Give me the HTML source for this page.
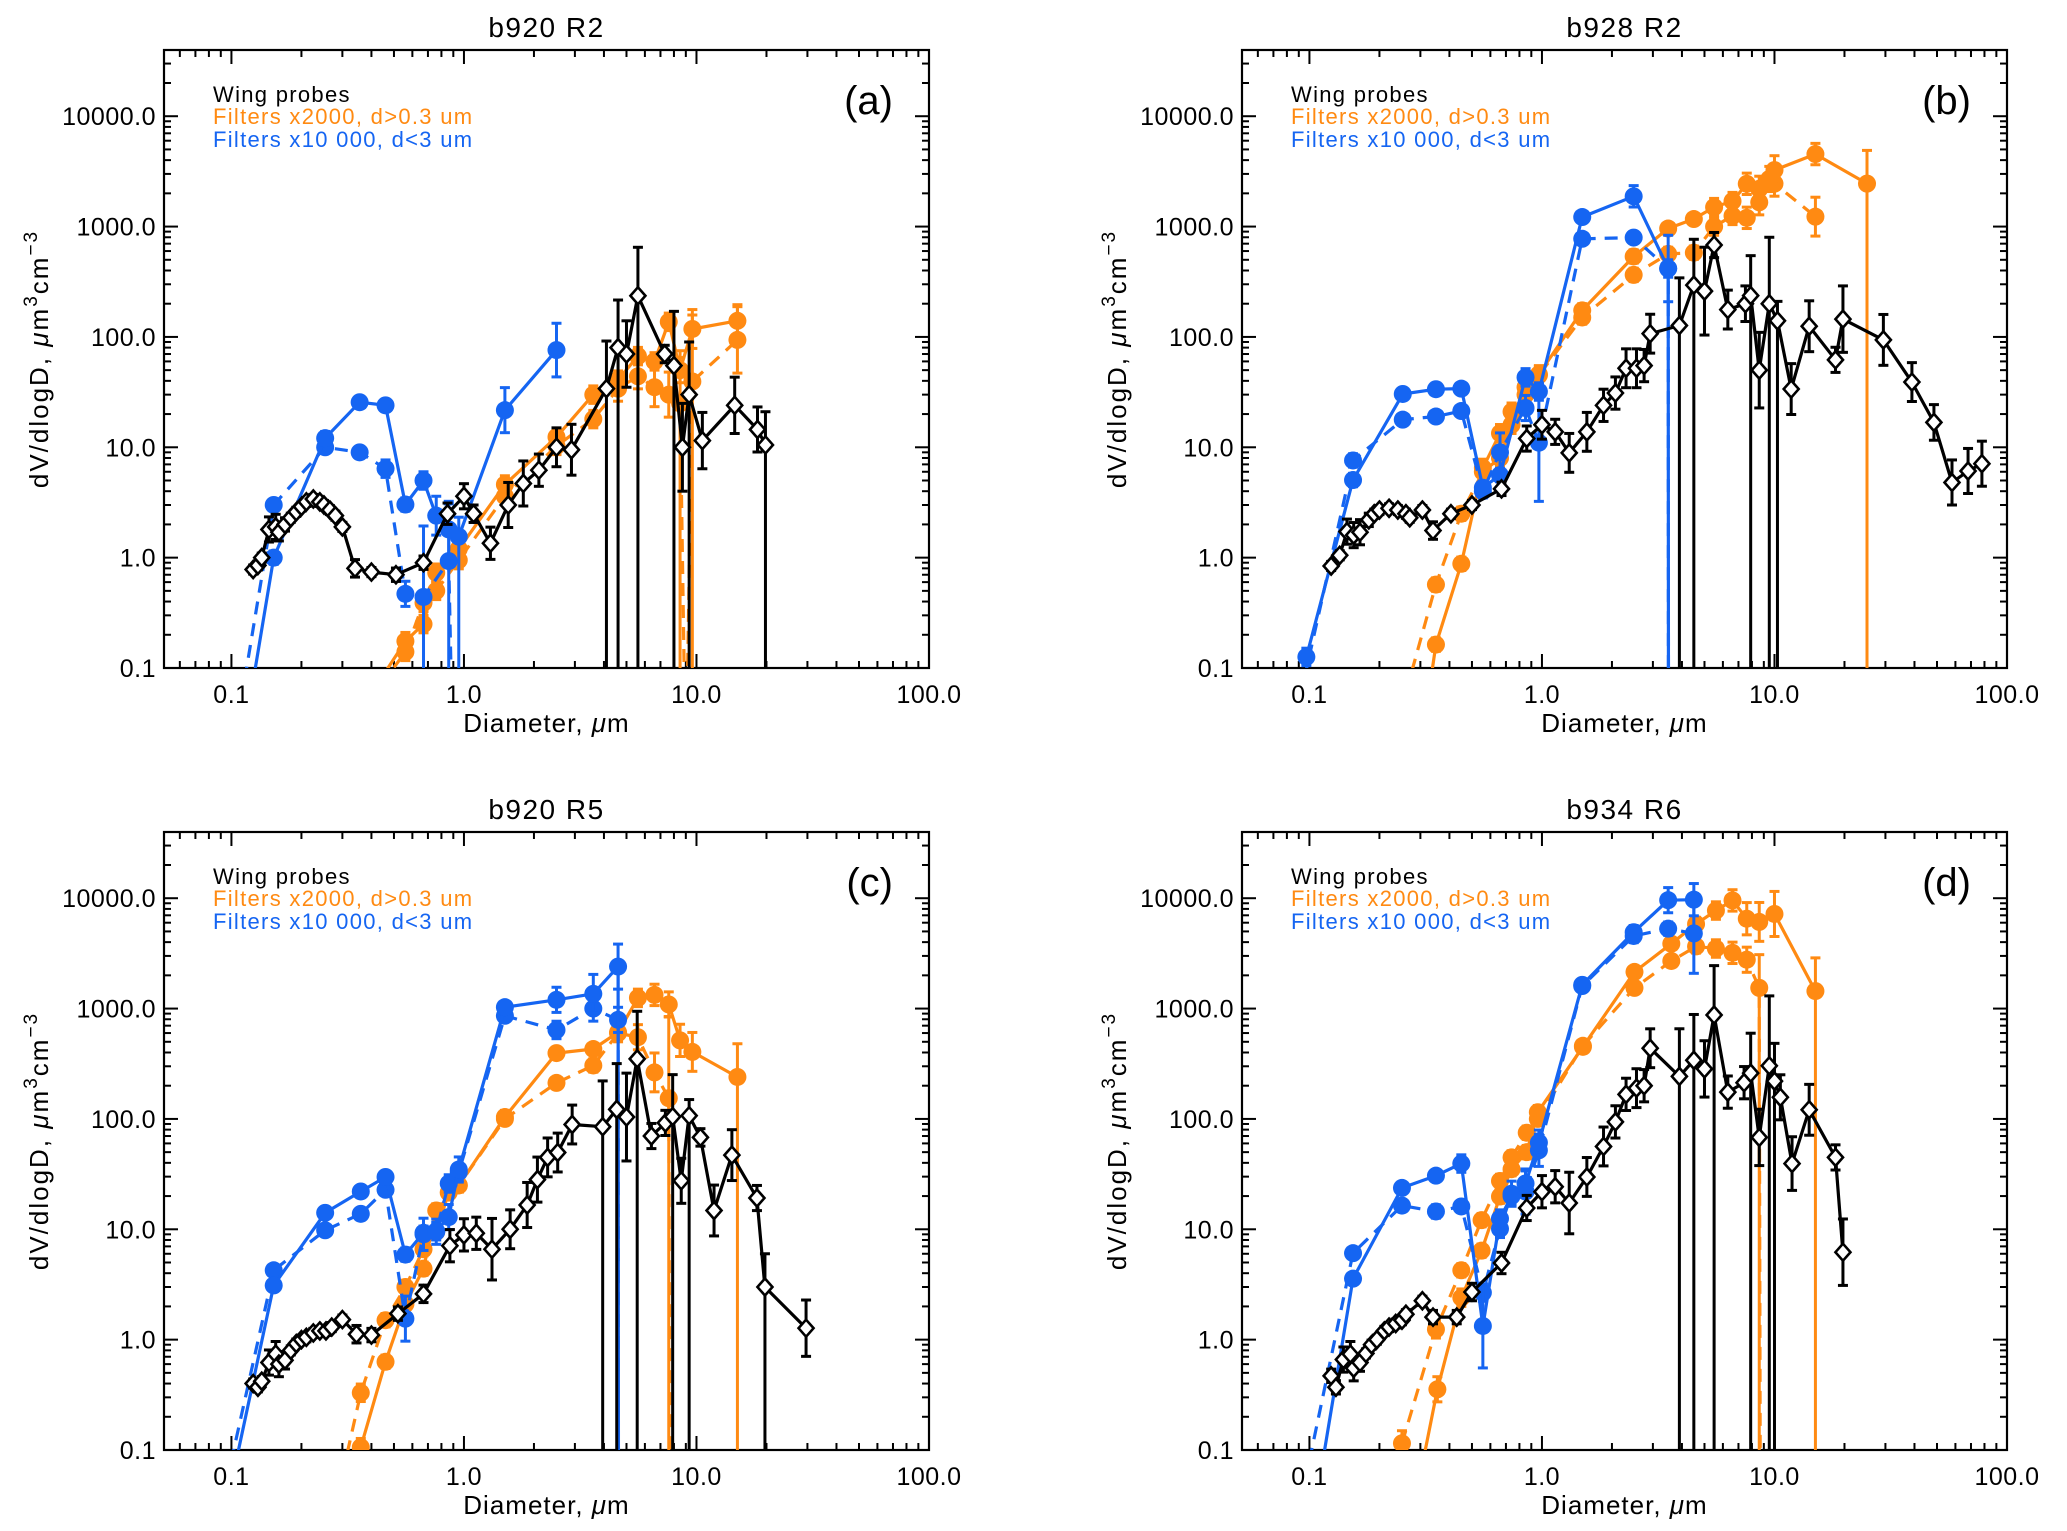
<!DOCTYPE html>
<html><head><meta charset="utf-8"><style>
html,body{margin:0;padding:0;background:#fff}
svg text{font-family:"Liberation Sans",sans-serif}
</style></head><body>
<svg id="chart" xmlns="http://www.w3.org/2000/svg" width="2067" height="1526" viewBox="0 0 2067 1526"></svg>
<script>
// ---------- Panel (a) b920 R2 ----------
const aBlackD=[0.124,0.13,0.135,0.145,0.155,0.16,0.17,0.18,0.19,0.2,0.21,0.225,0.24,0.25,0.265,0.28,0.3,0.34,0.4,0.51,0.67,0.85,1.0,1.1,1.3,1.55,1.8,2.1,2.5,2.9,4.1,4.6,5.0,5.6,7.3,8.0,8.7,9.3,10.6,14.6,18.3,19.8];
const aBlackV=[0.78,0.85,1.0,1.8,1.9,1.7,2.0,2.3,2.6,2.9,3.2,3.4,3.2,3.0,2.7,2.4,1.9,0.8,0.74,0.7,0.9,2.5,3.6,2.5,1.35,3.0,4.7,6.2,10,9.5,34,80,70,236,70,55,10,30,11.5,24,14.5,10.5];
const aBlackE=[1.1,1.1,1.1,1.3,1.3,1.2,1.15,1.1,1.1,1.1,1.1,1.1,1.1,1.1,1.1,1.1,1.1,1.2,1.1,1.15,1.15,1.25,1.3,1.2,1.4,1.6,1.6,1.4,1.5,1.7,-2.7,-2.7,2,-2.75,1.2,-3.1,2.5,-3,1.8,1.8,1.6,-2];
const aOSd=[0.44,0.56,0.67,0.76,0.95,1.5,2.5,3.6,4.6,5.6,6.6,7.6,8.5,9.6,15];
const aOSv=[0.08,0.175,0.25,0.73,1.2,4.6,12.4,30,41,67,60,137,50,118,140];
const aOSe=[1.2,1.2,1.2,1.2,1.2,1.2,1.2,1.2,1.2,1.2,1.2,1.2,1.3,1.5,1.4];
const aODd=[0.44,0.56,0.67,0.76,0.95,1.5,2.5,3.6,4.6,5.6,6.6,7.6,8.5,9.0,9.6,15];
const aODv=[0.07,0.14,0.39,0.5,0.95,3.6,10.3,18,34,44,35,30,25,0.01,39.5,94];
const aODe=[1.2,1.2,1.2,1.2,1.2,1.2,1.2,1.2,1.3,1.3,1.5,1.6,-3,1.2,-4,2];
const aBSd=[0.12,0.152,0.253,0.356,0.46,0.56,0.67,0.76,0.86,0.95,1.5,2.5];
const aBSv=[0.05,1.0,12.1,25.6,24,3.03,5.0,2.4,1.8,1.55,21.7,76];
const aBSe=[1.2,1.15,1.15,1.1,1.1,1.15,1.2,1.5,1.8,-1.5,1.6,1.75];
const aBDd=[0.11,0.152,0.253,0.356,0.46,0.56,0.67,0.86,0.9];
const aBDv=[0.05,3.0,10,9.0,6.4,0.47,0.44,0.93,0.01];
const aBDe=[1.2,1.1,1.1,1.1,1.2,1.3,-4.4,-3.3,1.2];
// ---------- Panel (b) b928 R2 ----------
const bBlackD=[0.124,0.135,0.145,0.155,0.165,0.18,0.19,0.2,0.22,0.24,0.26,0.27,0.306,0.34,0.406,0.5,0.67,0.86,1.0,1.14,1.31,1.56,1.84,2.07,2.3,2.55,2.75,2.92,3.9,4.5,5.0,5.5,6.3,7.5,7.9,8.6,9.5,10.3,11.8,14.1,18.3,19.7,29.4,39,48.5,58,68,78];
const bBlackV=[0.84,1.05,1.72,1.6,1.7,2.2,2.5,2.7,2.8,2.7,2.5,2.3,2.7,1.76,2.5,3.0,4.2,12,16,13.8,8.9,13.8,24,31,52,52,55,107,127,295,260,680,177,200,237,50,200,140,33.7,125,62,145,94,39,16.8,4.8,6.1,7.1];
const bBlackE=[1.1,1.1,1.3,1.3,1.3,1.15,1.1,1.1,1.1,1.1,1.1,1.1,1.1,1.2,1.1,1.1,1.15,1.3,1.35,1.3,1.5,1.5,1.4,1.4,1.5,1.5,1.4,1.5,-2.7,-2.6,2.5,1.3,1.5,1.45,-2.3,2.2,-4,-1.5,1.7,1.7,1.3,2,1.7,1.5,1.45,1.6,1.6,1.6];
const bOSd=[0.33,0.35,0.45,0.557,0.66,0.74,0.85,0.97,1.49,2.48,3.49,4.5,5.5,6.6,7.6,8.6,9.5,10,15,25];
const bOSv=[0.07,0.163,0.88,6.5,13.4,21,30,45.8,174,536,960,1170,1500,1700,2440,2200,2700,3250,4540,2450];
const bOSe=[1.2,1.15,1.15,1.2,1.2,1.2,1.2,1.2,1.15,1.15,1.1,1.1,1.2,1.2,1.25,1.3,1.3,1.35,1.25,-2];
const bODd=[0.26,0.35,0.45,0.557,0.66,0.74,0.85,0.97,1.49,2.48,3.49,4.5,5.5,6.6,7.6,8.6,10,15];
const bODv=[0.06,0.57,2.5,6.0,8,16,35,45,150,365,565,580,1000,1250,1200,1660,2450,1230];
const bODe=[1.2,1.15,1.15,1.2,1.2,1.2,1.2,1.2,1.15,1.15,1.15,1.15,1.2,1.2,1.25,1.3,1.3,1.5];
const bBSd=[0.097,0.154,0.252,0.35,0.45,0.557,0.66,0.85,0.97,1.49,2.48,3.49,3.5];
const bBSv=[0.126,5.05,30.4,33.6,34,4.3,5.6,43,32,1220,1880,417,0.01];
const bBSe=[1.2,1.15,1.1,1.1,1.1,1.15,1.15,1.2,1.2,1.1,1.25,2,1.2];
const bBDd=[0.095,0.154,0.252,0.35,0.45,0.557,0.66,0.85,0.97,1.49,2.48,3.49,3.5];
const bBDv=[0.08,7.6,17.8,19,21.3,4.0,9,22.7,11,775,795,417,0.01];
const bBDe=[1.2,1.15,1.1,1.1,1.1,1.15,1.5,1.3,3.4,1.1,1.1,1.2,1.2];
// ---------- Panel (c) b920 R5 ----------
const cBlackD=[0.124,0.13,0.135,0.145,0.155,0.16,0.17,0.18,0.19,0.2,0.21,0.225,0.24,0.255,0.27,0.3,0.345,0.4,0.52,0.67,0.87,1.0,1.13,1.32,1.58,1.87,2.07,2.29,2.53,2.92,3.95,4.54,5.0,5.56,6.4,7.35,7.9,8.6,9.3,10.4,11.9,14.2,18.2,19.7,29.6];
const cBlackV=[0.4,0.37,0.42,0.62,0.74,0.6,0.65,0.8,0.92,1.0,1.05,1.15,1.2,1.2,1.3,1.52,1.12,1.1,1.72,2.6,7.1,8.9,9.2,6.6,10,16.6,28.2,44.8,49.6,89,85,122,104,350,70,92,105,27.5,107,68,14.8,47,19.2,3.0,1.27];
const cBlackE=[1.1,1.1,1.1,1.3,1.3,1.3,1.2,1.1,1.1,1.1,1.1,1.1,1.1,1.1,1.1,1.1,1.2,1.15,1.15,1.2,1.4,1.4,1.4,1.9,1.5,1.6,1.6,1.5,1.5,1.5,-2.6,-2.6,2.5,-2.7,1.3,1.3,-2.4,1.6,-1.4,1.2,1.7,1.7,1.3,-2,1.8];
const cOSd=[0.32,0.36,0.46,0.56,0.67,0.76,0.95,1.5,2.5,3.6,4.6,5.6,6.6,7.6,8.5,9.6,15];
const cOSv=[0.06,0.106,0.63,2.1,4.4,14.8,25,104,395,430,610,1250,1330,1090,515,405,240];
const cOSe=[1.2,1.2,1.15,1.15,1.15,1.15,1.15,1.15,1.1,1.1,1.15,1.2,1.25,1.3,1.4,1.5,-2];
const cODd=[0.3,0.36,0.46,0.56,0.67,0.76,0.86,0.95,1.5,2.5,3.6,4.6,5.6,6.6,7.6,7.7];
const cODv=[0.06,0.33,1.5,3.0,6.6,9.5,21.5,25,100,212,305,600,550,264,154,0.01];
const cODe=[1.2,1.2,1.15,1.15,1.15,1.15,1.15,1.15,1.1,1.1,1.15,1.2,1.3,1.5,-5.5,1.2];
const cBSd=[0.1,0.152,0.253,0.36,0.46,0.56,0.67,0.76,0.86,0.95,1.5,2.5,3.6,4.6,4.62];
const cBSv=[0.05,3.1,14.1,22,29.8,5.9,9.3,9.6,12.9,34.8,1030,1200,1360,2400,0.01];
const cBSe=[1.2,1.1,1.1,1.1,1.1,1.15,1.15,1.2,1.3,1.3,1.1,1.3,1.5,1.6,1.2];
const cBDd=[0.095,0.152,0.253,0.36,0.46,0.56,0.67,0.76,0.86,0.95,1.5,2.5,3.6,4.6,4.62];
const cBDv=[0.05,4.25,9.8,13.8,22.8,1.55,9,9.5,26,33,860,640,1000,790,0.01];
const cBDe=[1.2,1.1,1.1,1.1,1.1,1.6,1.4,1.3,1.2,1.2,1.1,1.2,1.3,1.3,1.2];
// ---------- Panel (d) b934 R6 ----------
const dBlackD=[0.124,0.13,0.14,0.15,0.155,0.165,0.175,0.185,0.195,0.21,0.22,0.235,0.25,0.26,0.306,0.34,0.43,0.5,0.67,0.86,1.0,1.14,1.31,1.56,1.84,2.07,2.3,2.55,2.75,2.92,3.9,4.5,5.0,5.5,6.3,7.4,7.9,8.6,9.5,10.0,10.6,11.9,14.1,18.3,19.7];
const dBlackV=[0.47,0.37,0.66,0.74,0.55,0.62,0.75,0.9,1.0,1.2,1.3,1.4,1.5,1.7,2.25,1.6,1.6,2.7,4.95,15.6,21.9,24.3,17.3,29.8,56.3,94,167,190,200,437,243,340,284,875,175,213,260,68,303,220,157,39.4,121,44.8,6.2];
const dBlackE=[1.15,1.15,1.3,1.3,1.3,1.2,1.1,1.1,1.1,1.1,1.1,1.1,1.1,1.1,1.1,1.15,1.15,1.2,1.25,1.3,1.4,1.4,1.9,1.5,1.5,1.4,1.4,1.5,1.4,1.5,-2.7,-2.6,1.8,-2.8,1.4,1.4,-2.3,1.8,-4.3,-2.2,1.6,1.75,1.7,1.3,2];
const dOSd=[0.3,0.355,0.45,0.55,0.66,0.74,0.86,0.96,1.5,2.5,3.6,4.6,5.6,6.6,7.6,8.6,10,15];
const dOSv=[0.06,0.355,2.4,6.4,19.8,35,50,115,450,2150,3870,5840,7730,9550,6520,6100,7200,1440];
const dOSe=[1.2,1.3,1.2,1.15,1.15,1.15,1.15,1.15,1.1,1.1,1.1,1.15,1.2,1.25,1.4,1.5,1.6,-2];
const dODd=[0.25,0.35,0.45,0.55,0.66,0.74,0.86,0.96,1.5,2.5,3.6,4.6,5.6,6.6,7.6,8.6,8.7];
const dODv=[0.115,1.24,4.25,12.1,27.4,44.8,75,100,460,1540,2700,3660,3500,3200,2770,1540,0.01];
const dODe=[1.3,1.2,1.15,1.15,1.15,1.15,1.15,1.15,1.1,1.1,1.1,1.15,1.2,1.25,1.3,-2,1.2];
const dBSd=[0.11,0.154,0.25,0.35,0.45,0.557,0.66,0.74,0.85,0.97,1.49,2.48,3.49,4.5];
const dBSv=[0.05,3.57,23.7,30.6,39.4,1.33,12.5,20,26,61,1640,4920,9600,9700];
const dBSe=[1.2,1.1,1.1,1.1,1.2,2.4,1.2,1.2,1.3,1.3,1.1,1.15,1.3,1.4];
const dBDd=[0.1,0.154,0.25,0.35,0.45,0.557,0.66,0.74,0.85,0.97,1.49,2.48,3.49,4.5];
const dBDv=[0.08,6.08,16.4,14.5,16.1,2.67,10.1,21,22,52,1600,4550,5300,4800];
const dBDe=[1.2,1.1,1.1,1.15,1.1,1.2,1.2,1.3,1.6,1.4,1.1,1.15,1.15,2.3];

const xTickVals=[0.1,1,10,100];
const xTickLabels=["0.1","1.0","10.0","100.0"];
const yTickVals=[0.1,1,10,100,1000,10000];
const yTickLabels=["0.1","1.0","10.0","100.0","1000.0","10000.0"];

const ORANGE="#ff8a12", BLUE="#1565f2";
const W=765,H=618,XMIN=-1.29,XMAX=2,YMIN=-1,YMAX=4.6;
const panels=[
 {id:'a',title:'b920  R2',x0:164,y0:50,black:[aBlackD,aBlackV,aBlackE],oS:[aOSd,aOSv,aOSe],oD:[aODd,aODv,aODe],bS:[aBSd,aBSv,aBSe],bD:[aBDd,aBDv,aBDe],leg:["Filters  x2000,  d>0.3  um","Filters  x10 000,  d<3  um"]},
 {id:'b',title:'b928  R2',x0:1242,y0:50,black:[bBlackD,bBlackV,bBlackE],oS:[bOSd,bOSv,bOSe],oD:[bODd,bODv,bODe],bS:[bBSd,bBSv,bBSe],bD:[bBDd,bBDv,bBDe],leg:["Filters  x2000,  d>0.3 um","Filters  x10 000,  d<3 um"]},
 {id:'c',title:'b920  R5',x0:164,y0:832,black:[cBlackD,cBlackV,cBlackE],oS:[cOSd,cOSv,cOSe],oD:[cODd,cODv,cODe],bS:[cBSd,cBSv,cBSe],bD:[cBDd,cBDv,cBDe],leg:["Filters  x2000,  d>0.3  um","Filters  x10 000,  d<3  um"]},
 {id:'d',title:'b934  R6',x0:1242,y0:832,black:[dBlackD,dBlackV,dBlackE],oS:[dOSd,dOSv,dOSe],oD:[dODd,dODv,dODe],bS:[dBSd,dBSv,dBSe],bD:[dBDd,dBDv,dBDe],leg:["Filters  x2000,  d>0.3  um","Filters  x10 000,  d<3  um"]}
];
const NS="http://www.w3.org/2000/svg";
const svg=document.getElementById('chart');
function mk(tag,attrs,parent){const e=document.createElementNS(NS,tag);for(const k in attrs)e.setAttribute(k,attrs[k]);(parent||svg).appendChild(e);return e;}

panels.forEach(p=>{
  const xs=d=>p.x0+(Math.log10(d)-XMIN)/(XMAX-XMIN)*W;
  const ys=v=>p.y0+H-(Math.log10(v)-YMIN)/(YMAX-YMIN)*H;
  const g=mk('g',{});
  
  
  const clipId='clip'+p.id;
  const cp=mk('clipPath',{id:clipId},g);
  mk('rect',{x:p.x0,y:p.y0,width:W,height:H},cp);
  const t=mk('text',{x:p.x0+W/2,y:p.y0-13,'text-anchor':'middle','font-size':28,'letter-spacing':1.5,'xml:space':'preserve'},g);
  t.textContent=p.title;
  
  
  const ax=mk('g',{stroke:'#000','stroke-width':2},g);
  
  
  for(let e=-2;e<=2;e++){for(let m=1;m<=9;m++){const d=m*Math.pow(10,e);const lg=Math.log10(d);if(lg<XMIN-1e-9||lg>XMAX+1e-9)continue;const x=xs(d);const L=m===1?14:7;
    mk('line',{x1:x,y1:p.y0+H,x2:x,y2:p.y0+H-L},ax);mk('line',{x1:x,y1:p.y0,x2:x,y2:p.y0+L},ax);}}
  for(let e=-1;e<=4;e++){for(let m=1;m<=9;m++){const v=m*Math.pow(10,e);const lg=Math.log10(v);if(lg>YMAX)continue;const y=ys(v);const L=m===1?14:7;
    mk('line',{x1:p.x0,y1:y,x2:p.x0+L,y2:y},ax);mk('line',{x1:p.x0+W,y1:y,x2:p.x0+W-L,y2:y},ax);}}
  mk('rect',{x:p.x0,y:p.y0,width:W,height:H,fill:'none',stroke:'#000','stroke-width':2.2},g);
  xTickVals.forEach((v,i)=>{const tx=mk('text',{x:xs(v),y:p.y0+H+35,'text-anchor':'middle','font-size':25,'letter-spacing':0.5},g);tx.textContent=xTickLabels[i];
    
    });
  yTickVals.forEach((v,i)=>{const ty=mk('text',{x:p.x0-8,y:ys(v)+9,'text-anchor':'end','font-size':25,'letter-spacing':0.5},g);ty.textContent=yTickLabels[i];
    
    });
  const xt=mk('text',{x:p.x0+W/2,y:p.y0+H+64,'text-anchor':'middle','font-size':26,'letter-spacing':1,'xml:space':'preserve'},g);
  xt.innerHTML='Diameter,  <tspan font-style="italic">μ</tspan>m';
  
  
  const yt=mk('text',{x:0,y:0,'text-anchor':'middle','font-size':26,'letter-spacing':2,'xml:space':'preserve',transform:`translate(${p.x0-116},${p.y0+H/2}) rotate(-90)`},g);
  yt.innerHTML='dV/dlogD,  <tspan font-style="italic">μ</tspan>m<tspan dy="-11" font-size="19">3</tspan><tspan dy="11">cm</tspan><tspan dy="-11" font-size="19">−3</tspan>';
  
  
  const lg=mk('g',{'font-size':22,'letter-spacing':1.3},g);
  
  
  const l1=mk('text',{x:p.x0+49,y:p.y0+52,fill:'#000','xml:space':'preserve'},lg);l1.textContent='Wing  probes';
  
  
  const l2=mk('text',{x:p.x0+49,y:p.y0+74,fill:ORANGE,'xml:space':'preserve'},lg);l2.textContent=p.leg[0];
  
  
  const l3=mk('text',{x:p.x0+49,y:p.y0+97,fill:BLUE,'xml:space':'preserve'},lg);l3.textContent=p.leg[1];
  
  
  const pl=mk('text',{x:p.x0+729,y:p.y0+64,'text-anchor':'end','font-size':40},g);pl.textContent='('+p.id+')';
  
  

  const plot=mk('g',{'clip-path':`url(#${clipId})`},g);
  
  
  function series(arr,color,dash,marker,name){
    const [D,V,E]=arr;
    const sg=mk('g',{},plot);
    
    
    const yb=p.y0+H+5;
    D.forEach((d,i)=>{if(V[i]<0.1)return;const x=xs(d);const f=Math.abs(E[i]);
      const yh=ys(V[i]*f);const yl=E[i]<0?yb:ys(V[i]/f);
      const eb=mk('line',{x1:x,y1:yh,x2:x,y2:yl,stroke:color,'stroke-width':3},sg);
      
      
      mk('line',{x1:x-5,y1:yh,x2:x+5,y2:yh,stroke:color,'stroke-width':3},sg);
      if(E[i]>0)mk('line',{x1:x-5,y1:yl,x2:x+5,y2:yl,stroke:color,'stroke-width':3},sg);});
    const pts=D.map((d,i)=>xs(d).toFixed(1)+','+ys(V[i]).toFixed(1)).join(' ');
    const pl=mk('polyline',{points:pts,fill:'none',stroke:color,'stroke-width':3.2,'stroke-dasharray':dash?'13,9':'none','stroke-linejoin':'round'},sg);
    
    
    D.forEach((d,i)=>{if(V[i]<0.1)return;const x=xs(d),y=ys(V[i]);let m;
      if(marker==='circle'){m=mk('circle',{cx:x,cy:y,r:9,fill:color},sg);}
      else{m=mk('polygon',{points:`${x},${y-8.5} ${x+7.5},${y} ${x},${y+8.5} ${x-7.5},${y}`,fill:'#fff',stroke:'#000','stroke-width':2.6},sg);}
      
      });
  }
  series(p.oD,ORANGE,true,'circle','filters-x2000-dashed');
  series(p.oS,ORANGE,false,'circle','filters-x2000-solid');
  series(p.bD,BLUE,true,'circle','filters-x10000-dashed');
  series(p.bS,BLUE,false,'circle','filters-x10000-solid');
  series(p.black,'#000',false,'diamond','wing-probes');
});
</script>
</body></html>
